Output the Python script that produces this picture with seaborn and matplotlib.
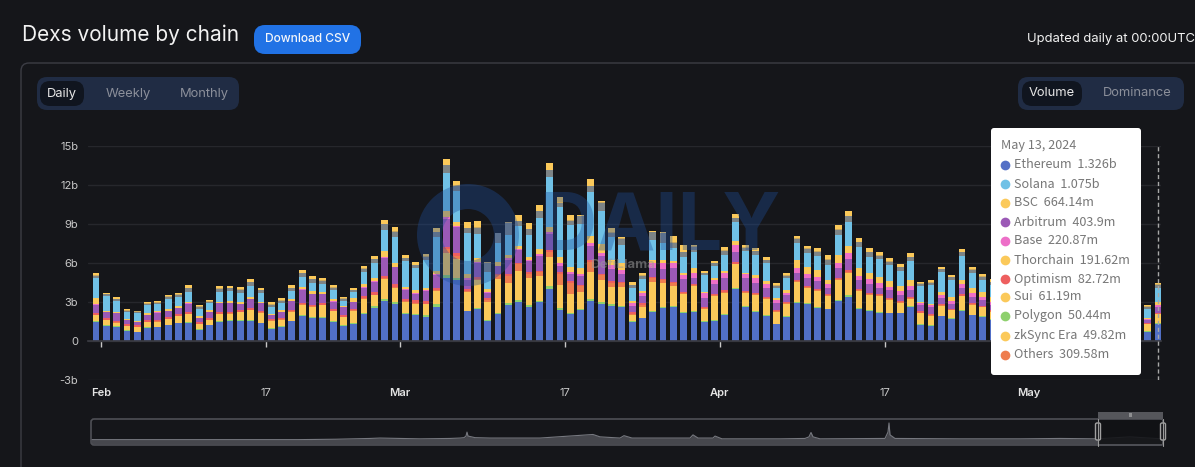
import pandas as pd
import seaborn as sns
import matplotlib
matplotlib.use('Agg')
import matplotlib.pyplot as plt
from matplotlib.patches import FancyBboxPatch, Wedge

# Daily volume in billions, Jan 31 to May 13 2024 (104 days).
# Days 89-102 sit behind the tooltip so those are rough guesses.
ethereum = [1.49,1.15,1.08,.79,.67,1.03,1.05,1.21,1.36,1.41,
            .87,1.21,1.46,1.54,1.54,1.54,1.36,.92,1.08,1.51,
            1.92,1.77,1.79,1.46,1.15,1.33,2.08,2.54,3.05,2.85,
            2.05,1.97,1.85,2.62,4.82,4.67,2.28,2.46,1.54,2.08,
            2.79,3.00,2.62,2.97,4.00,2.41,2.05,2.36,3.05,2.87,
            2.69,2.62,1.49,1.74,2.23,2.56,2.62,2.13,2.26,1.49,
            1.56,2.00,3.97,2.62,2.26,1.92,1.28,1.85,2.95,2.85,
            2.54,2.44,3.08,3.41,2.44,2.28,2.18,2.13,2.13,2.64,
            1.23,1.18,1.90,1.69,2.28,1.97,1.87,1.62,1.5,1.3,
            1.7,1.9,1.6,1.4,1.2,1.5,1.7,1.5,1.3,1.1,
            1.2,1.0,.72,1.326]
polygon = [.05,.05,.04,.03,.03,.04,.04,.05,.05,.05,
           .04,.04,.05,.05,.06,.06,.06,.05,.05,.06,
           .07,.07,.07,.06,.05,.06,.10,.13,.20,.14,
           .12,.11,.12,.20,.28,.18,.06,.08,.05,.07,
           .10,.13,.15,.13,.20,.10,.10,.12,.15,.12,
           .12,.08,.05,.06,.08,.08,.08,.07,.08,.07,
           .07,.08,.10,.08,.08,.07,.06,.06,.07,.07,
           .07,.06,.10,.13,.10,.07,.07,.06,.06,.05,
           .05,.05,.05,.05,.07,.06,.05,.05,.05,.05,
           .05,.05,.05,.05,.05,.05,.05,.05,.05,.05,
           .05,.04,.04,.0504]
bsc = [.46,.41,.29,.33,.38,.37,.40,.41,.51,.59,
       .40,.37,.54,.51,.61,.76,.76,.59,.51,.68,
       .80,.78,.88,.79,.64,.94,1.05,.84,1.52,1.12,
       .83,.79,.85,1.03,1.64,1.46,1.40,2.15,1.44,2.62,
       1.59,2.25,2.11,1.92,2.29,1.82,1.44,1.32,2.13,1.70,
       1.32,1.43,.46,.84,2.25,1.84,1.54,1.39,1.89,.90,
       1.85,1.64,1.82,1.02,1.20,1.24,.91,.97,1.55,1.16,
       1.24,.97,1.52,1.72,1.34,1.21,1.21,.97,.76,.54,
       .85,.72,.77,.64,1.11,.76,.69,.59,.7,.6,
       .8,.9,.7,.6,.5,.7,.8,.7,.6,.5,
       .5,.4,.55,.664]
others_orange = [.03,.03,.03,.03,.03,.03,.03,.03,.03,.03,
                 .03,.03,.03,.03,.03,.03,.03,.03,.03,.03,
                 .04,.04,.04,.03,.03,.03,.05,.05,.05,.05,
                 .05,.05,.05,.05,.30,.25,.10,.10,.15,.30,
                 .55,.55,.30,.30,.35,.85,.90,.40,.75,.35,
                 .35,.30,.10,.10,.25,.20,.20,.10,.05,.05,
                 .05,.08,.05,.05,.05,.05,.04,.04,.05,.05,
                 .05,.05,.06,.06,.05,.05,.05,.04,.04,.04,
                 .04,.04,.04,.04,.04,.04,.04,.04,.04,.04,
                 .04,.04,.04,.04,.04,.04,.04,.04,.04,.04,
                 .04,.04,.03,.05]
optimism = [.12,.12,.12,.12,.12,.12,.12,.12,.12,.12,
            .12,.12,.12,.12,.12,.12,.12,.12,.12,.12,
            .12,.12,.12,.12,.12,.12,.20,.20,.20,.20,
            .20,.20,.20,.20,.20,.20,.15,.15,.10,.10,
            .10,.10,.10,.10,.15,.10,.10,.10,.15,.10,
            .10,.10,.10,.15,.10,.10,.12,.10,.10,.10,
            .10,.12,.12,.10,.10,.10,.10,.10,.10,.10,
            .10,.10,.12,.12,.10,.10,.10,.10,.10,.10,
            .10,.10,.08,.08,.08,.08,.08,.08,.08,.08,
            .08,.08,.08,.08,.08,.08,.08,.08,.08,.08,
            .08,.08,.06,.0827]
arbitrum = [.64,.46,.59,.28,.23,.38,.54,.49,.46,.67,
            .31,.46,.72,.67,.46,.72,.59,.26,.44,.64,
            1.00,.82,.69,.56,.61,.51,.60,.78,1.40,1.30,
            .65,.50,.78,1.01,2.17,1.99,.73,1.03,.42,.58,
            1.12,.94,.86,1.12,1.22,.49,.54,.71,1.08,1.40,
            .97,.63,.50,.58,.71,.74,1.07,.99,.47,.71,
            .76,.89,.82,.94,.78,.70,.56,.50,.48,.63,
            .65,.45,.70,.86,.63,.68,.47,.64,.48,.59,
            .53,.53,.50,.37,.48,.45,.42,.40,.4,.35,
            .45,.5,.4,.35,.3,.4,.45,.4,.35,.3,
            .3,.25,.19,.404]
base = [.03,.03,.03,.03,.03,.03,.03,.03,.03,.03,
        .03,.03,.03,.03,.03,.03,.03,.03,.03,.03,
        .03,.03,.03,.03,.03,.03,.07,.07,.07,.07,
        .07,.07,.07,.07,.15,.10,.10,.08,.05,.05,
        .10,.10,.10,.15,.20,.20,.20,.15,.20,.20,
        .30,.30,.20,.20,.35,.45,.35,.30,.35,.35,
        .30,.40,.50,.35,.40,.30,.20,.15,.45,.30,
        .30,.30,.40,.45,.35,.35,.35,.25,.30,.30,
        .15,.15,.20,.20,.30,.30,.25,.25,.2,.2,
        .25,.3,.25,.2,.2,.25,.25,.2,.2,.15,
        .15,.12,.08,.2209]
thorchain = [.51,.05,.05,.05,.08,.13,.10,.13,.10,.10,
             .13,.13,.05,.10,.13,.15,.08,.10,.10,.13,
             .15,.18,.15,.21,.08,.26,.26,.23,.41,.26,
             .21,.21,.18,.21,.44,.33,.33,.31,.26,.31,
             .26,.26,.26,.36,.33,.51,.38,.44,.56,.72,
             .38,.51,.21,.21,.26,.26,.21,.13,.38,.13,
             .13,.18,.31,.05,.21,.23,.13,.26,.59,.56,
             .51,.33,.64,.56,.59,.46,.51,.46,.38,.44,
             .08,.08,.21,.33,.33,.38,.38,.38,.3,.25,
             .3,.35,.3,.25,.2,.3,.3,.25,.25,.2,
             .2,.15,.08,.1916]
solana = [1.51,1.15,.85,.56,.59,.62,.54,.77,.74,.77,
          .56,.54,.79,.79,.74,.85,.69,.54,.54,.64,
          .79,.69,.64,.69,.38,.49,.90,1.15,1.64,2.03,
          1.97,1.69,2.13,2.59,2.95,2.38,3.13,1.90,1.33,1.46,
          1.54,1.54,1.69,2.44,3.85,3.79,3.21,3.38,3.41,2.54,
          1.79,1.41,.95,.90,1.54,1.33,1.00,1.28,1.28,1.28,
          .97,1.23,1.44,1.74,1.54,1.36,.77,.90,1.33,1.08,
          1.10,1.15,1.54,1.82,1.62,1.28,1.33,1.21,1.15,1.46,
          1.21,1.46,1.59,1.33,1.87,1.21,.95,.90,.9,.8,
          1.0,1.1,.9,.8,.7,.9,1.0,.9,.8,.7,
          .7,.6,.74,1.075]
others_gray = [.18,.13,.13,.09,.07,.13,.10,.15,.15,.28,
               .13,.10,.21,.21,.21,.27,.19,.16,.19,.22,
               .28,.25,.21,.16,.16,.13,.25,.28,.43,.40,
               .22,.24,.25,.39,.58,.40,.41,.46,.68,.71,
               .94,.33,.41,.48,.54,.38,.33,.63,.41,.63,
               .30,.50,.22,.25,.60,.71,.38,.33,.37,.14,
               .18,.31,.30,.22,.27,.25,.19,.19,.28,.28,
               .30,.40,.40,.48,.39,.34,.28,.25,.28,.28,
               .16,.18,.19,.19,.25,.24,.22,.22,.2,.2,
               .25,.25,.2,.2,.15,.2,.2,.2,.2,.15,
               .15,.15,.13,.26]
zksync = [.04,.04,.04,.04,.04,.04,.04,.04,.04,.04,
          .04,.04,.04,.04,.04,.04,.04,.04,.04,.04,
          .04,.04,.04,.04,.04,.04,.04,.04,.04,.04,
          .04,.04,.04,.04,.04,.04,.04,.04,.04,.04,
          .04,.04,.04,.04,.04,.04,.04,.04,.04,.04,
          .04,.04,.04,.04,.04,.04,.04,.04,.04,.04,
          .04,.04,.04,.04,.04,.04,.04,.04,.04,.04,
          .04,.04,.04,.04,.04,.04,.04,.04,.04,.04,
          .04,.04,.04,.04,.04,.04,.04,.04,.04,.04,
          .04,.04,.04,.04,.04,.04,.04,.04,.04,.04,
          .04,.04,.04,.0498]
sui = [.14,.11,.11,.08,.07,.11,.09,.12,.12,.22,
       .11,.09,.16,.16,.16,.20,.15,.13,.15,.18,
       .22,.20,.16,.13,.13,.11,.20,.22,.32,.30,
       .18,.18,.20,.29,.41,.30,.45,.50,.02,.02,
       .05,.45,.45,.48,.50,.40,.40,.05,.50,.10,
       .30,.10,.25,.15,.05,.10,.50,.50,.15,.13,
       .14,.24,.30,.18,.20,.20,.15,.15,.22,.22,
       .22,.30,.30,.35,.29,.26,.22,.20,.22,.30,
       .13,.14,.15,.15,.20,.18,.18,.18,.15,.15,
       .15,.15,.15,.15,.1,.15,.15,.15,.15,.1,
       .1,.1,.11,.0612]

y_ticks = [-3, 0, 3, 6, 9, 12, 15]
y_labels = ['-3b', '0', '3b', '6b', '9b', '12b', '15b']
x_tick_days = [1, 17, 30, 46, 61, 77, 91]
x_labels = ['Feb', '17', 'Mar', '17', 'Apr', '17', 'May']

tooltip_date = 'May 13, 2024'
tooltip_names = ['Ethereum', 'Solana', 'BSC', 'Arbitrum', 'Base', 'Thorchain',
                 'Optimism', 'Sui', 'Polygon', 'zkSync Era', 'Others']
tooltip_values = ['1.326b', '1.075b', '664.14m', '403.9m', '220.87m', '191.62m',
                  '82.72m', '61.19m', '50.44m', '49.82m', '309.58m']
tooltip_colors = ['#5470c6', '#70c1e6', '#fbc95a', '#9b59b6', '#ed6fc8', '#fbc95a',
                  '#ee5f5f', '#fbc95a', '#8ed06d', '#fbc95a', '#ee7d4e']

# full history strip under the chart, height is rough
mini_pos = [0, 414, 486, 488, 558, 578, 658, 718, 738, 746, 750, 752, 754, 768, 798, 898, 1004,
            1018, 1058, 1066, 1082, 1198, 1204, 1214, 1244, 1248, 1262, 1378, 1428, 1436, 1440,
            1444, 1458, 1588, 1594, 1596, 1598, 1608, 1738, 1858, 1938, 2012, 2078, 2142]
mini_vals = [11, 11, 12, 12, 14, 15, 13, 14, 15, 16, 20, 30, 20, 16, 15, 15, 24,
             18, 15, 21, 15, 15, 23, 15, 15, 20, 13, 13, 14, 18, 29,
             18, 13, 14, 30, 53, 23, 14, 13, 13, 14, 13, 18, 13]

BG = '#15161a'

sns.set_theme(style='dark')
plt.rcParams['font.family'] = ['Inter', 'DejaVu Sans']

df = pd.DataFrame({
    'Ethereum': ethereum, 'Polygon': polygon, 'BSC': bsc, 'Others orange': others_orange,
    'Optimism': optimism, 'Arbitrum': arbitrum, 'Base': base, 'Thorchain': thorchain,
    'Solana': solana, 'Others gray': others_gray, 'zkSync Era': zksync, 'Sui': sui,
})
df['day'] = range(len(df))
long_df = df.melt(id_vars='day', var_name='chain', value_name='volume')

palette = {'Ethereum': '#516fc6', 'Polygon': '#8ed06d', 'BSC': '#fbc95a',
           'Others orange': '#ee7d4e', 'Optimism': '#ee5f5f', 'Arbitrum': '#9b59b6',
           'Base': '#ed6fc8', 'Thorchain': '#fbc95a', 'Solana': '#70c1e6',
           'Others gray': '#7d8486', 'zkSync Era': '#c9a860', 'Sui': '#fbc95a'}
# histplot puts the first hue level on top of the stack
stack_order = list(palette)[::-1]

fig = plt.figure(figsize=(11.95, 4.67), dpi=100, facecolor=BG)


def pixel_axes(z):
    # overlay in picture pixels, y going down
    a = fig.add_axes([0, 0, 1, 1], zorder=z)
    a.set_xlim(0, 1195)
    a.set_ylim(467, 0)
    a.axis('off')
    return a


def pill(a, x0, y0, x1, y1, r, **kw):
    a.add_patch(FancyBboxPatch((x0 + r, y0 + r), x1 - x0 - 2 * r, y1 - y0 - 2 * r,
                               boxstyle=f'round,pad={r},rounding_size={r}', **kw))


bg = pixel_axes(0)
pill(bg, 21, 63, 1260, 520, 8, fc='none', ec='#3c3d45', lw=1)
bg.text(22, 35, 'Dexs volume by chain', color='#f2f2f2', fontsize=15, va='center')
pill(bg, 254, 25, 361, 54, 11, fc='#2172e5', ec='none')
bg.text(307.5, 39, 'Download CSV', color='#f4f6fa', fontsize=8.6, fontweight='medium',
        ha='center', va='center')
bg.text(1195, 39, 'Updated daily at 00:00UTC', color='#f2f2f2', fontsize=9.4,
        ha='right', va='center')

pill(bg, 37, 77, 239, 110, 10, fc='#202c44', ec='none')
pill(bg, 40, 81, 84, 106, 10, fc='#10151f', ec='none')
bg.text(62, 93.5, 'Daily', color='#e6e6e6', fontsize=9.3, ha='center', va='center')
bg.text(128.5, 93.5, 'Weekly', color='#8b8f9a', fontsize=9.3, ha='center', va='center')
bg.text(204, 93.5, 'Monthly', color='#8b8f9a', fontsize=9.3, ha='center', va='center')

pill(bg, 1018, 77, 1184, 110, 10, fc='#202c44', ec='none')
pill(bg, 1022, 81, 1082, 106, 10, fc='#10151f', ec='none')
bg.text(1052, 93.5, 'Volume', color='#e6e6e6', fontsize=9.3, ha='center', va='center')
bg.text(1137.5, 93.5, 'Dominance', color='#8b8f9a', fontsize=9.3, ha='center', va='center')

# main chart, 96px is the first bar centre, 10.31px per day
ax = fig.add_axes([88 / 1195, (467 - 380) / 467, 1073 / 1195, 234 / 467], zorder=1)
ax.patch.set_alpha(0)
sns.histplot(data=long_df, x='day', weights='volume', hue='chain',
             hue_order=stack_order, palette=palette, multiple='stack', discrete=True,
             shrink=0.66, linewidth=0, alpha=1, legend=False, ax=ax)
ax.set_xlim(-0.776, 103.3)
ax.set_ylim(-3, 15)
ax.set_xlabel('')
ax.set_ylabel('')
ax.set_yticks(y_ticks, y_labels)
ax.set_xticks([d - 0.5 for d in x_tick_days], x_labels)
ax.grid(axis='y', color='#26272c', lw=1)
ax.set_axisbelow(True)
for side in ['top', 'left', 'right']:
    ax.spines[side].set_visible(False)
ax.spines['bottom'].set_position(('data', 0))
ax.spines['bottom'].set_color('#3a3b42')
ax.tick_params(axis='x', length=4, width=1, color='#c8c8c8', pad=30, labelsize=8,
               labelcolor='#c8c8c8', bottom=True)
ax.tick_params(axis='y', length=0, pad=7, labelsize=8, labelcolor='#c8c8c8')
# month names are heavier than the mid month ones
for lab in ax.get_xticklabels():
    if lab.get_text() != '17':
        lab.set_fontweight('semibold')
        lab.set_color('#e4e4e4')
ax.axvline(103, ymin=0, ymax=1, color='#a8a8a8', lw=1, ls=(0, (3, 2)), zorder=6)

# watermark lies over the bars
wm = pixel_axes(2)
wm.add_patch(Wedge((468, 235), 51, 0, 360, width=25, fc='#1f4f9c', ec='none', alpha=0.36))
wm.text(660, 228, 'DAILY', color='#1f4f9c', alpha=0.36, fontsize=57, fontweight='bold',
        ha='center', va='center')
wm.text(623, 265, 'DefiLlama', color='#9a9a9a', alpha=0.55, fontsize=9.5, fontweight='bold',
        ha='center', va='center')

# history strip
mini = fig.add_axes([91 / 1195, (467 - 444) / 467, 1072 / 1195, 25 / 467], zorder=1)
mini.patch.set_alpha(0)
sns.lineplot(x=mini_pos, y=mini_vals, color='#76787f', lw=0.8, sort=False, ax=mini)
mini.fill_between(mini_pos, mini_vals, color='#46474d', lw=0)
mini.set_xlim(0, 2144)
mini.set_ylim(0, 63)
mini.axis('off')

fg = pixel_axes(3)
pill(fg, 91, 419, 1163, 445, 3, fc='none', ec='#4e4f55', lw=1.2)
fg.fill_between([1098, 1162], 420, 444, color='#111215', lw=0, alpha=0.88)
fg.plot([1098, 1162], [444.5, 444.5], color='#4e4f55', lw=1.2)
fg.fill_between([1098, 1163], 412, 419, color='#55565b', lw=0)
fg.text(1130.5, 415.5, 'III', color='#c8c8c8', fontsize=4, ha='center', va='center')
for hx in [1098, 1163]:
    fg.plot([hx, hx], [419, 446], color='#9a9a9a', lw=0.8)
    pill(fg, hx - 2.5, 423, hx + 2.5, 440, 1.5, fc='#16171b', ec='#a0a0a0', lw=1)

# tooltip
pill(fg, 991, 128, 1141, 375, 3, fc='white', ec='none')
fg.text(1001, 146, tooltip_date, color='#777777', fontsize=9.1,
        family=['Noto Sans CJK SC', 'DejaVu Sans'], va='center')
row_y = [165, 184, 203, 222, 240.5, 260, 279, 297, 316, 335.5, 354.5]
for yy, name, val, col in zip(row_y, tooltip_names, tooltip_values, tooltip_colors):
    fg.plot(1005.5, yy, 'o', ms=7, color=col, mew=0)
    fg.text(1014, yy, f'{name}  {val}', color='#777777', fontsize=9.1,
            family=['Noto Sans CJK SC', 'DejaVu Sans'], va='center')
fg.set_xlim(0, 1195)
fg.set_ylim(467, 0)

fig.savefig('out.png', dpi=100, facecolor=BG)
